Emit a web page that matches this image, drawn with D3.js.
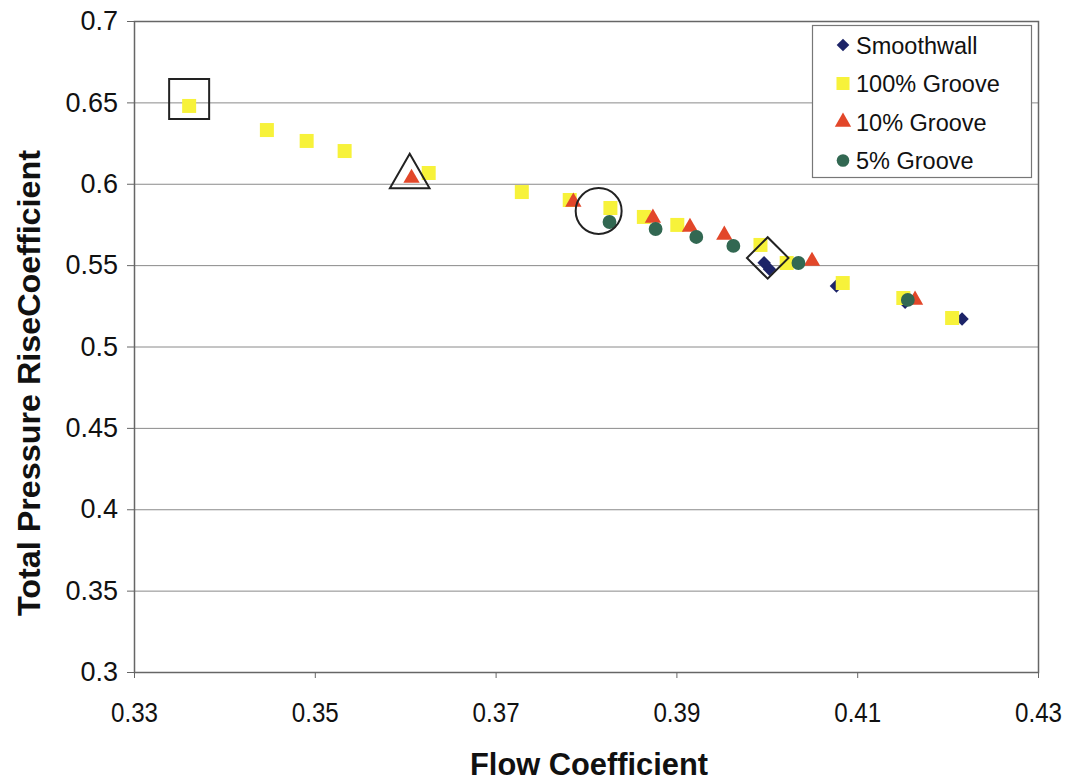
<!DOCTYPE html>
<html>
<head>
<meta charset="utf-8">
<script src="https://cdn.jsdelivr.net/npm/d3@7"></script>
<style>
body{margin:0;background:#fff;}
svg{display:block;}
text{font-family:"Liberation Sans",Arial,sans-serif;fill:#111;}
</style>
</head>
<body>
<script>
// chart size
var W=1073, H=782;
var plotL=134, plotR=1038, plotT=21, plotB=672;

// data
var smoothFlow=[0.3997,0.4003,0.4077,0.4153,0.4216];
var smoothPsi =[0.5515,0.5475,0.5372,0.5272,0.5169];

var g100Flow=[0.3361,0.3447,0.3491,0.3533,0.3626,0.3729,0.3782,0.3827,0.3864,0.3901,0.3993,0.4022,0.4084,0.4151,0.4205];
var g100Psi =[0.6478,0.6330,0.6263,0.6201,0.6066,0.5949,0.5900,0.5851,0.5796,0.5747,0.5624,0.5513,0.5390,0.5298,0.5175];

var g10Flow=[0.3607,0.3786,0.3874,0.3915,0.3953,0.4050,0.4164];
var g10Psi =[0.6035,0.5888,0.5790,0.5734,0.5685,0.5525,0.5286];

var g5Flow=[0.3826,0.3877,0.3922,0.3963,0.4035,0.4156];
var g5Psi =[0.5765,0.5722,0.5673,0.5618,0.5513,0.5286];

var seriesNames=["Smoothwall","100% Groove","10% Groove","5% Groove"];
var xTicks=[0.33,0.35,0.37,0.39,0.41,0.43];
var yTicks=[0.3,0.35,0.4,0.45,0.5,0.55,0.6,0.65,0.7];

// hand-drawn highlight marks
var markShape=["square","triangle","circle","diamond"];
var markFlow=[0.3361,0.3605,0.3814,0.4001];
var markPsi =[0.6521,0.6043,0.5833,0.5544];

var colors={"Smoothwall":"#1d2468","100% Groove":"#f7f23a","10% Groove":"#e2472a","5% Groove":"#326852"};

var svg=d3.select("body").append("svg").attr("width",W).attr("height",H);

var x=d3.scaleLinear().domain([0.33,0.43]).range([plotL,plotR]);
var y=d3.scaleLinear().domain([0.3,0.7]).range([plotB,plotT]);

// grid
svg.append("g").selectAll("line").data(yTicks.slice(1,-1)).enter().append("line")
  .attr("x1",plotL).attr("x2",plotR)
  .attr("y1",function(d){return y(d)+0.5}).attr("y2",function(d){return y(d)+0.5})
  .attr("stroke","#8a8a8a").attr("stroke-width",1);

// axes
var yAxis=svg.append("g").attr("transform","translate("+plotL+",0)")
  .call(d3.axisLeft(y).tickValues(yTicks).tickSize(7).tickPadding(9).tickFormat(function(d){return String(+d.toFixed(2))}));
var xAxis=svg.append("g").attr("transform","translate(0,"+plotB+")")
  .call(d3.axisBottom(x).tickValues(xTicks).tickSize(6).tickPadding(24).tickFormat(function(d){return d.toFixed(2)}));
[xAxis,yAxis].forEach(function(a){
  a.select(".domain").remove();
  a.selectAll("line").attr("stroke","#666");
  a.selectAll("text").attr("font-family","Liberation Sans, Arial, sans-serif").attr("fill","#111");
});
yAxis.selectAll("text").attr("font-size",27);
xAxis.selectAll("text").attr("font-size",28).attr("textLength",47).attr("lengthAdjust","spacingAndGlyphs");

// plot frame
svg.append("rect").attr("x",plotL+0.5).attr("y",plotT+0.5).attr("width",plotR-plotL).attr("height",plotB-plotT)
  .attr("fill","none").attr("stroke","#666").attr("stroke-width",1.5);

// axis titles
svg.append("text").attr("x",589).attr("y",775).attr("text-anchor","middle")
  .attr("font-size",31).attr("font-weight","bold")
  .attr("textLength",238).attr("lengthAdjust","spacingAndGlyphs")
  .text("Flow Coefficient");
svg.append("text").attr("transform","translate(40,383) rotate(-90)").attr("text-anchor","middle")
  .attr("font-size",31).attr("font-weight","bold")
  .attr("textLength",466).attr("lengthAdjust","spacingAndGlyphs")
  .text("Total Pressure RiseCoefficient");

function pts(fx,fy){return fx.map(function(v,i){return {x:v,y:fy[i]}});}
var series=[
  {name:"Smoothwall",data:pts(smoothFlow,smoothPsi),sym:d3.symbolSquare,size:90,rot:45},
  {name:"100% Groove",data:pts(g100Flow,g100Psi),sym:d3.symbolSquare,size:196,rot:0},
  {name:"10% Groove",data:pts(g10Flow,g10Psi),sym:d3.symbolTriangle,size:115,rot:0},
  {name:"5% Groove",data:pts(g5Flow,g5Psi),sym:d3.symbolCircle,size:150,rot:0}
];

series.forEach(function(s){
  svg.append("g").selectAll("path").data(s.data).enter().append("path")
    .attr("d",d3.symbol().type(s.sym).size(s.size))
    .attr("transform",function(d){return "translate("+x(d.x)+","+y(d.y)+") rotate("+s.rot+")"})
    .attr("fill",colors[s.name]);
});

// highlight outlines
var markSym={square:[d3.symbolSquare,1600,0],triangle:[d3.symbolTriangle,680,0],circle:[d3.symbolCircle,1660,0],diamond:[d3.symbolSquare,860,45]};
svg.append("g").selectAll("path").data(markShape).enter().append("path")
  .attr("d",function(d){return d3.symbol().type(markSym[d][0]).size(markSym[d][1])()})
  .attr("transform",function(d,i){return "translate("+x(markFlow[i])+","+y(markPsi[i])+") rotate("+markSym[d][2]+")"})
  .attr("fill","none").attr("stroke","#222").attr("stroke-width",2);

// legend
var lg=svg.append("g");
lg.append("rect").attr("x",812.5).attr("y",25.5).attr("width",219).attr("height",152)
  .attr("fill","#fff").attr("stroke","#777").attr("stroke-width",1.2);
series.forEach(function(s,i){
  var cy=45+i*38.5;
  var sz={"Smoothwall":80,"100% Groove":170,"10% Groove":115,"5% Groove":125}[s.name];
  lg.append("path").attr("d",d3.symbol().type(s.sym).size(sz))
    .attr("transform","translate(843,"+cy+") rotate("+s.rot+")").attr("fill",colors[s.name]);
  lg.append("text").attr("x",856).attr("y",cy+8.5).attr("font-size",23.5).text(s.name);
});
</script>
</body>
</html>
